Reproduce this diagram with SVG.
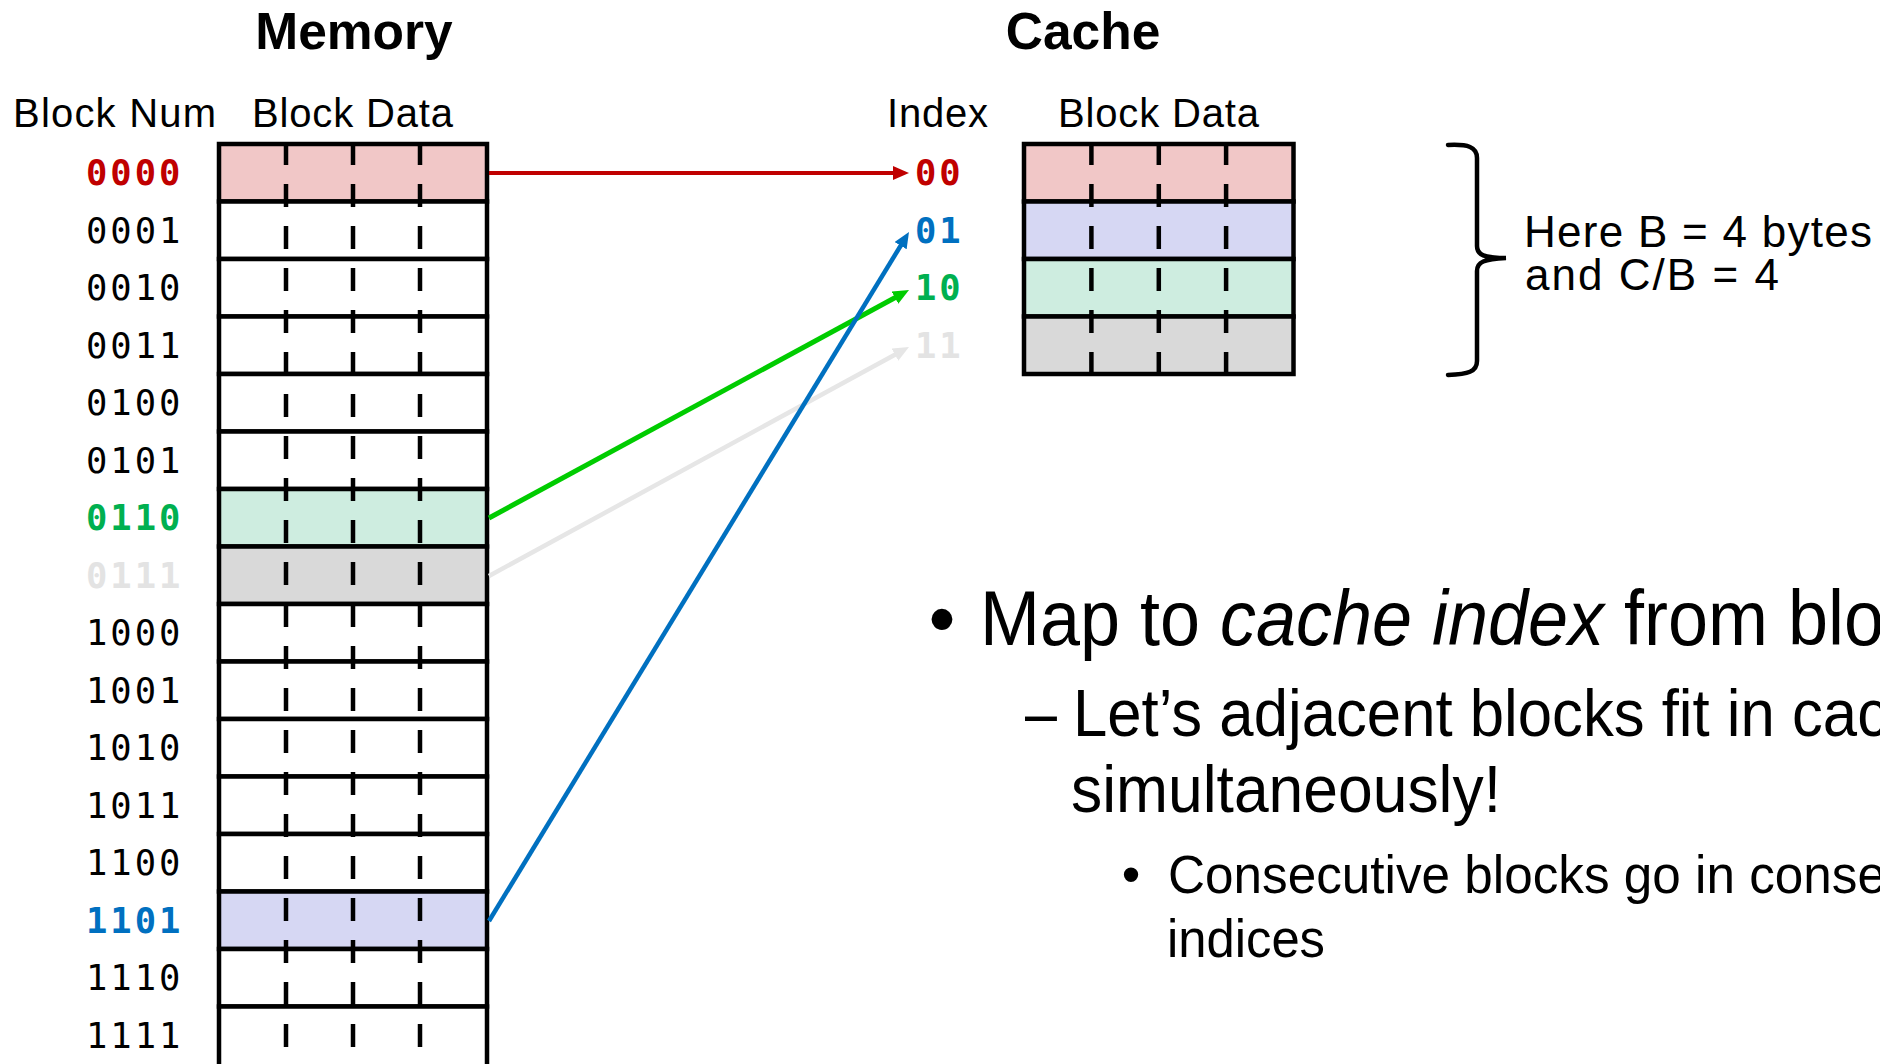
<svg xmlns="http://www.w3.org/2000/svg" width="1880" height="1064" viewBox="0 0 1880 1064">
<style>
.title{font-family:'Liberation Sans',Arial,sans-serif;font-weight:bold;font-size:51.5px;fill:#000;text-anchor:middle}
.hdr{font-family:'Liberation Sans',Arial,sans-serif;font-size:40px;fill:#000}
.num{font-family:'DejaVu Sans Mono',monospace;font-size:35.5px;letter-spacing:3px;fill:#000}
.b{font-weight:bold}
.cell{stroke:#000;stroke-width:4.5;fill:#fff}
.pink{fill:#F1C7C7}
.lav{fill:#D6D7F3}
.mint{fill:#CEEDE0}
.grey{fill:#D9D9D9}
.dash{stroke:#000;stroke-width:4.5;stroke-dasharray:23 19}
.body{font-family:'Liberation Sans',Arial,sans-serif;fill:#000}
.cr{fill:#C00000}.cb{fill:#0070C0}.cg{fill:#00B050}.cl{fill:#E3E3E3}
.conn{fill:none}
</style>
<defs>
<marker id="ah-red" markerUnits="userSpaceOnUse" markerWidth="18" markerHeight="15" refX="2" refY="7" orient="auto"><path d="M0,0 L16,7 L0,14 z" fill="#C00000"/></marker>
<marker id="ah-blue" markerUnits="userSpaceOnUse" markerWidth="18" markerHeight="15" refX="2" refY="7" orient="auto"><path d="M0,0 L16,7 L0,14 z" fill="#0070C0"/></marker>
<marker id="ah-green" markerUnits="userSpaceOnUse" markerWidth="18" markerHeight="15" refX="2" refY="7" orient="auto"><path d="M0,0 L16,7 L0,14 z" fill="#00CC00"/></marker>
<marker id="ah-grey" markerUnits="userSpaceOnUse" markerWidth="18" markerHeight="15" refX="2" refY="7" orient="auto"><path d="M0,0 L16,7 L0,14 z" fill="#E6E6E6"/></marker>
</defs>
<rect width="1880" height="1064" fill="#fff"/>

<g id="titles">
<text class="title" x="354" y="49">Memory</text>
<text class="title" x="1083" y="49">Cache</text>
<text class="hdr" x="13" y="127" textLength="203">Block Num</text>
<text class="hdr" x="252" y="127" textLength="201">Block Data</text>
<text class="hdr" x="887" y="127" textLength="101">Index</text>
<text class="hdr" x="1058" y="127" textLength="201">Block Data</text>
</g>

<g id="memory">
<g id="mem-0000"><rect class="cell pink" x="219" y="144" width="268" height="57.5"/><text class="num b cr" x="86" y="185.25">0000</text></g>
<g id="mem-0001"><rect class="cell" x="219" y="201.5" width="268" height="57.5"/><text class="num" x="86" y="242.75">0001</text></g>
<g id="mem-0010"><rect class="cell" x="219" y="259" width="268" height="57.5"/><text class="num" x="86" y="300.25">0010</text></g>
<g id="mem-0011"><rect class="cell" x="219" y="316.5" width="268" height="57.5"/><text class="num" x="86" y="357.75">0011</text></g>
<g id="mem-0100"><rect class="cell" x="219" y="374" width="268" height="57.5"/><text class="num" x="86" y="415.25">0100</text></g>
<g id="mem-0101"><rect class="cell" x="219" y="431.5" width="268" height="57.5"/><text class="num" x="86" y="472.75">0101</text></g>
<g id="mem-0110"><rect class="cell mint" x="219" y="489" width="268" height="57.5"/><text class="num b cg" x="86" y="530.25">0110</text></g>
<g id="mem-0111"><rect class="cell grey" x="219" y="546.5" width="268" height="57.5"/><text class="num b cl" x="86" y="587.75">0111</text></g>
<g id="mem-1000"><rect class="cell" x="219" y="604" width="268" height="57.5"/><text class="num" x="86" y="645.25">1000</text></g>
<g id="mem-1001"><rect class="cell" x="219" y="661.5" width="268" height="57.5"/><text class="num" x="86" y="702.75">1001</text></g>
<g id="mem-1010"><rect class="cell" x="219" y="719" width="268" height="57.5"/><text class="num" x="86" y="760.25">1010</text></g>
<g id="mem-1011"><rect class="cell" x="219" y="776.5" width="268" height="57.5"/><text class="num" x="86" y="817.75">1011</text></g>
<g id="mem-1100"><rect class="cell" x="219" y="834" width="268" height="57.5"/><text class="num" x="86" y="875.25">1100</text></g>
<g id="mem-1101"><rect class="cell lav" x="219" y="891.5" width="268" height="57.5"/><text class="num b cb" x="86" y="932.75">1101</text></g>
<g id="mem-1110"><rect class="cell" x="219" y="949" width="268" height="57.5"/><text class="num" x="86" y="990.25">1110</text></g>
<g id="mem-1111"><rect class="cell" x="219" y="1006.5" width="268" height="62"/><text class="num" x="86" y="1047.75">1111</text></g>
<g id="mem-dividers">
<line class="dash" x1="286" y1="142" x2="286" y2="1070"/>
<line class="dash" x1="353" y1="142" x2="353" y2="1070"/>
<line class="dash" x1="420" y1="142" x2="420" y2="1070"/>
</g>
</g>

<g id="cache">
<g id="cache-00"><rect class="cell pink" x="1024" y="144" width="269.5" height="57.5"/><text class="num b cr" x="915" y="185.25">00</text></g>
<g id="cache-01"><rect class="cell lav" x="1024" y="201.5" width="269.5" height="57.5"/><text class="num b cb" x="915" y="242.75">01</text></g>
<g id="cache-10"><rect class="cell mint" x="1024" y="259" width="269.5" height="57.5"/><text class="num b cg" x="915" y="300.25">10</text></g>
<g id="cache-11"><rect class="cell grey" x="1024" y="316.5" width="269.5" height="57.5"/><text class="num b cl" x="915" y="357.75">11</text></g>
<g id="cache-dividers">
<line class="dash" x1="1091.4" y1="142" x2="1091.4" y2="376"/>
<line class="dash" x1="1158.8" y1="142" x2="1158.8" y2="376"/>
<line class="dash" x1="1226.1" y1="142" x2="1226.1" y2="376"/>
</g>
</g>

<g id="connectors">
<line class="conn" x1="489" y1="576" x2="896.7" y2="353.7" stroke="#E6E6E6" stroke-width="4.5" marker-end="url(#ah-grey)"/>
<line class="conn" x1="489" y1="518" x2="896.7" y2="296.7" stroke="#00CC00" stroke-width="5" marker-end="url(#ah-green)"/>
<line class="conn" x1="489" y1="173" x2="895" y2="173" stroke="#C00000" stroke-width="4" marker-end="url(#ah-red)"/>
<line class="conn" x1="489" y1="921" x2="901.7" y2="244" stroke="#0070C0" stroke-width="4.5" marker-end="url(#ah-blue)"/>
</g>

<g id="brace-note">
<path d="M1448,145 C1468,144 1477,147 1477,158 L1477,246 C1477,255 1484,258 1506,258 C1484,259 1477,262 1477,271 L1477,361 C1477,372 1468,374 1448,375" fill="none" stroke="#000" stroke-width="4.5" stroke-linecap="round"/>
<text class="body" x="1524" y="247" font-size="44" textLength="348">Here B = 4 bytes</text>
<text class="body" x="1525" y="290" font-size="44" textLength="254">and C/B = 4</text>
</g>

<g id="bullets">
<text class="body" x="942" y="645" font-size="77" text-anchor="middle">•</text>
<text class="body" x="980" y="645" font-size="77" textLength="904" lengthAdjust="spacingAndGlyphs">Map to <tspan font-style="italic">cache index</tspan> from blo</text>
<text class="body" x="1025" y="736" font-size="66" textLength="32" lengthAdjust="spacingAndGlyphs">–</text>
<text class="body" x="1073" y="736" font-size="66" textLength="815" lengthAdjust="spacingAndGlyphs">Let’s adjacent blocks fit in cac</text>
<text class="body" x="1071" y="812" font-size="66" textLength="430" lengthAdjust="spacingAndGlyphs">simultaneously!</text>
<text class="body" x="1131" y="893" font-size="53" text-anchor="middle">•</text>
<text class="body" x="1168" y="893" font-size="53" textLength="718" lengthAdjust="spacingAndGlyphs">Consecutive blocks go in conse</text>
<text class="body" x="1167" y="957" font-size="53" textLength="158" lengthAdjust="spacingAndGlyphs">indices</text>
</g>
</svg>
